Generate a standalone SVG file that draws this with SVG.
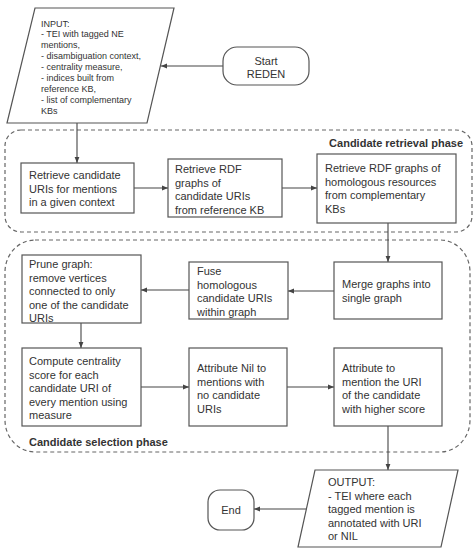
<svg xmlns="http://www.w3.org/2000/svg" width="474" height="558" viewBox="0 0 474 558">
<defs>
<marker id="ah" viewBox="0 0 10 10" refX="10" refY="5" markerWidth="6" markerHeight="6" orient="auto" markerUnits="userSpaceOnUse">
<path d="M0,1 L10,5 L0,9 z" fill="#444"/>
</marker>
<style>
.box{fill:#fff;stroke:#555;stroke-width:1.2}
.grp{fill:none;stroke:#666;stroke-width:1.2;stroke-dasharray:4 3}
.t{font-family:"Liberation Sans",Arial,sans-serif;font-size:11px;fill:#333}
.s{font-family:"Liberation Sans",Arial,sans-serif;font-size:9px;fill:#333}
.b{font-family:"Liberation Sans",Arial,sans-serif;font-size:11px;font-weight:bold;fill:#333}
.c{fill:none;stroke:#444;stroke-width:1.1;marker-end:url(#ah)}
</style>
</defs>
<rect width="474" height="558" fill="#fff"/>
<g id="groups">
<g id="retrieval-phase">
<rect class="grp" x="5" y="130" width="467" height="102" rx="16" ry="16"/>
<text class="b" x="463" y="147" text-anchor="end">Candidate retrieval phase</text>
</g>
<g id="selection-phase">
<rect class="grp" x="5" y="240" width="465" height="212" rx="30" ry="32"/>
<text class="b" x="29" y="446">Candidate selection phase</text>
</g>
</g>
<g id="connectors">
<line class="c" x1="223" y1="66" x2="161" y2="66"/>
<line class="c" x1="77" y1="123" x2="77" y2="163"/>
<line class="c" x1="134" y1="188" x2="168" y2="188"/>
<line class="c" x1="282" y1="188" x2="317" y2="188"/>
<line class="c" x1="388" y1="223" x2="388" y2="262"/>
<line class="c" x1="334" y1="291" x2="288" y2="291"/>
<line class="c" x1="189" y1="290" x2="141" y2="290"/>
<line class="c" x1="81" y1="323" x2="81" y2="348"/>
<line class="c" x1="141" y1="387" x2="189" y2="387"/>
<line class="c" x1="287" y1="387" x2="334" y2="387"/>
<line class="c" x1="388" y1="426" x2="388" y2="470"/>
<line class="c" x1="306" y1="509" x2="254" y2="509"/>
</g>
<g id="input">
<polygon class="box" points="35,8 174,8 147,123 7,123"/>
<text class="s"><tspan x="41" y="26.5">INPUT:</tspan><tspan x="41" y="37.4">- TEI with tagged NE</tspan><tspan x="41" y="48.3">mentions,</tspan><tspan x="41" y="59.2">- disambiguation context,</tspan><tspan x="41" y="70.1">- centrality measure,</tspan><tspan x="41" y="81">- indices built from</tspan><tspan x="41" y="91.9">reference KB,</tspan><tspan x="41" y="102.8">- list of complementary</tspan><tspan x="41" y="113.7">KBs</tspan></text>
</g>
<g id="start">
<rect class="box" x="223" y="47" width="86" height="38" rx="14" ry="14"/>
<text class="t" text-anchor="middle"><tspan x="266" y="65">Start</tspan><tspan x="266" y="77.5">REDEN</tspan></text>
</g>
<g id="retrieve-candidates">
<rect class="box" x="21" y="163" width="113" height="50"/>
<text class="t"><tspan x="29" y="179">Retrieve candidate</tspan><tspan x="29" y="192.5">URIs for mentions</tspan><tspan x="29" y="206">in a given context</tspan></text>
</g>
<g id="retrieve-rdf-reference">
<rect class="box" x="168" y="159" width="114" height="58"/>
<text class="t"><tspan x="175" y="173">Retrieve RDF</tspan><tspan x="175" y="186.5">graphs of</tspan><tspan x="175" y="200">candidate URIs</tspan><tspan x="175" y="213.5">from reference KB</tspan></text>
</g>
<g id="retrieve-rdf-complementary">
<rect class="box" x="317" y="154" width="139" height="69"/>
<text class="t"><tspan x="325" y="172">Retrieve RDF graphs of</tspan><tspan x="325" y="185.5">homologous resources</tspan><tspan x="325" y="199">from complementary</tspan><tspan x="325" y="212.5">KBs</tspan></text>
</g>
<g id="merge">
<rect class="box" x="334" y="262" width="108" height="57"/>
<text class="t"><tspan x="342" y="288">Merge graphs into</tspan><tspan x="342" y="301.5">single graph</tspan></text>
</g>
<g id="fuse">
<rect class="box" x="189" y="262" width="99" height="57"/>
<text class="t"><tspan x="197" y="275">Fuse</tspan><tspan x="197" y="288.5">homologous</tspan><tspan x="197" y="302">candidate URIs</tspan><tspan x="197" y="315.5">within graph</tspan></text>
</g>
<g id="prune">
<rect class="box" x="22" y="255" width="119" height="68"/>
<text class="t"><tspan x="29" y="268">Prune graph:</tspan><tspan x="29" y="281.5">remove vertices</tspan><tspan x="29" y="295">connected to only</tspan><tspan x="29" y="308.5">one of the candidate</tspan><tspan x="29" y="322">URIs</tspan></text>
</g>
<g id="compute">
<rect class="box" x="22" y="348" width="119" height="78"/>
<text class="t"><tspan x="29" y="365">Compute centrality</tspan><tspan x="29" y="378.5">score for each</tspan><tspan x="29" y="392">candidate URI of</tspan><tspan x="29" y="405.5">every mention using</tspan><tspan x="29" y="419">measure</tspan></text>
</g>
<g id="attribute-nil">
<rect class="box" x="189" y="348" width="98" height="78"/>
<text class="t"><tspan x="197" y="372">Attribute Nil to</tspan><tspan x="197" y="385.5">mentions with</tspan><tspan x="197" y="399">no candidate</tspan><tspan x="197" y="412.5">URIs</tspan></text>
</g>
<g id="attribute-uri">
<rect class="box" x="334" y="348" width="108" height="78"/>
<text class="t"><tspan x="342" y="372">Attribute to</tspan><tspan x="342" y="385.5">mention the URI</tspan><tspan x="342" y="399">of the candidate</tspan><tspan x="342" y="412.5">with higher score</tspan></text>
</g>
<g id="output">
<polygon class="box" points="315,470 458,470 441,547 298,547"/>
<text class="t"><tspan x="328" y="486">OUTPUT:</tspan><tspan x="328" y="499.5">- TEI where each</tspan><tspan x="328" y="513">tagged mention is</tspan><tspan x="328" y="526.5">annotated with URI</tspan><tspan x="328" y="540">or NIL</tspan></text>
</g>
<g id="end">
<rect class="box" x="208" y="490" width="46" height="40" rx="12" ry="12"/>
<text class="t" x="231" y="514" text-anchor="middle">End</text>
</g>
</svg>
